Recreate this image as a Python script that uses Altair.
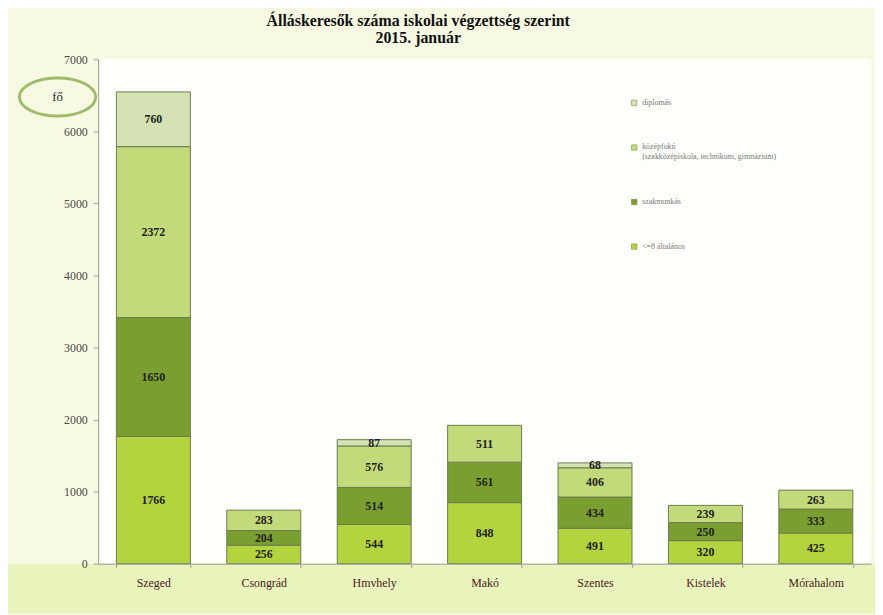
import altair as alt
import pandas as pd

cities = ["Szeged", "Csongrád", "Hmvhely", "Makó", "Szentes", "Kistelek", "Mórahalom"]
levels = ["diplomás", "középfokú|(szakközépiskola,  technikum,  gimnázium)", "szakmunkás", "<=8 általános"]
alt8 = [1766, 256, 544, 848, 491, 320, 425]
szakm = [1650, 204, 514, 561, 434, 250, 333]
kozep = [2372, 283, 576, 511, 406, 239, 263]
dipl = [760, None, 87, None, 68, None, None]
colors = ["#d4e2b4", "#c2da79", "#7a9e2f", "#b3d33f"]
y_ticks = [0, 1000, 2000, 3000, 4000, 5000, 6000, 7000]

rows = []
for series, lvl, order in [(alt8, levels[3], 0), (szakm, levels[2], 1), (kozep, levels[1], 2), (dipl, levels[0], 3)]:
    for c, v in zip(cities, series):
        if v is not None:
            rows.append({"city": c, "level": lvl, "value": v, "ord": order})
df = pd.DataFrame(rows)

W, H = 780, 509
serif = "Liberation Serif"

base = alt.Chart(df).transform_stack(
    stack="value", as_=["y0", "y1"], groupby=["city"], sort=[alt.SortField("ord")]
).transform_calculate(mid="(datum.y0 + datum.y1) / 2")

xenc = alt.X("city:N", sort=cities, title=None,
             scale=alt.Scale(paddingInner=0.33, paddingOuter=0.165),
             axis=alt.Axis(labelAngle=0, labelFont=serif, labelFontSize=12, labelColor="#4b2020",
                           labelPadding=10, tickBand="extent", tickSize=4, tickColor="#9a9a9a",
                           domainColor="#9a9a9a", zindex=1))
yscale = alt.Scale(domain=[0, 7000], nice=False)

bars = base.mark_bar(stroke="#6b7b50", strokeWidth=1).encode(
    x=xenc,
    y=alt.Y("y0:Q", scale=yscale, title=None,
            axis=alt.Axis(values=y_ticks, format="d", labelFont=serif, labelFontSize=12,
                          labelColor="#4a4a4a", grid=False, tickSize=5, tickColor="#9a9a9a",
                          domainColor="#9a9a9a", labelPadding=6, zindex=1)),
    y2="y1:Q",
    color=alt.Color("level:N", scale=alt.Scale(domain=levels, range=colors),
                    legend=alt.Legend(title=None, orient="none", legendX=537, legendY=40,
                                      symbolType="square", symbolSize=30, symbolStrokeWidth=0.5,
                                      symbolStrokeColor="#6b7b50",
                                      labelFont=serif, labelFontSize=8, labelColor="#777777",
                                      labelLimit=400, rowPadding=37,
                                      labelExpr="split(datum.label, '|')")),
)

labels = base.mark_text(font=serif, fontSize=12, fontWeight="bold", color="#222222").encode(
    x=alt.X("city:N", sort=cities),
    y=alt.Y("mid:Q", scale=yscale),
    text="value:Q",
)

band = alt.Chart(pd.DataFrame({"a": [0]})).mark_rect(color="#e9f4bd").encode(
    x=alt.value(-99), x2=alt.value(W + 4), y=alt.value(H), y2=alt.value(H + 50)
)

ell_path = "M-1,0 A1,0.5 0 1,1 1,0 A1,0.5 0 1,1 -1,0 Z"
ellipse = alt.Chart(pd.DataFrame({"t": ["fő"]})).mark_point(
    shape=ell_path, size=5929, filled=False, stroke="#7aa23a", strokeWidth=3
).encode(x=alt.value(-41), y=alt.value(38))
ell_text = alt.Chart(pd.DataFrame({"t": ["fő"]})).mark_text(
    font=serif, fontSize=13, color="#222222"
).encode(x=alt.value(-41), y=alt.value(38), text="t:N")

chart = alt.layer(band, bars, labels, ellipse, ell_text).properties(
    width=W, height=H,
    title=alt.TitleParams(["Álláskeresők száma iskolai végzettség szerint", "2015. január"],
                          font=serif, fontSize=16, fontWeight="bold", color="#111111",
                          anchor="middle", dx=-67, offset=7, lineHeight=18),
    autosize=alt.AutoSizeParams(type="none"),
    padding={"left": 91, "top": 49, "right": 4, "bottom": 50},
).configure(background="#f8f9e2").configure_view(fill="#fffffb", stroke=None)

chart.save("out.html", embed_options={"renderer": "svg", "actions": False})
